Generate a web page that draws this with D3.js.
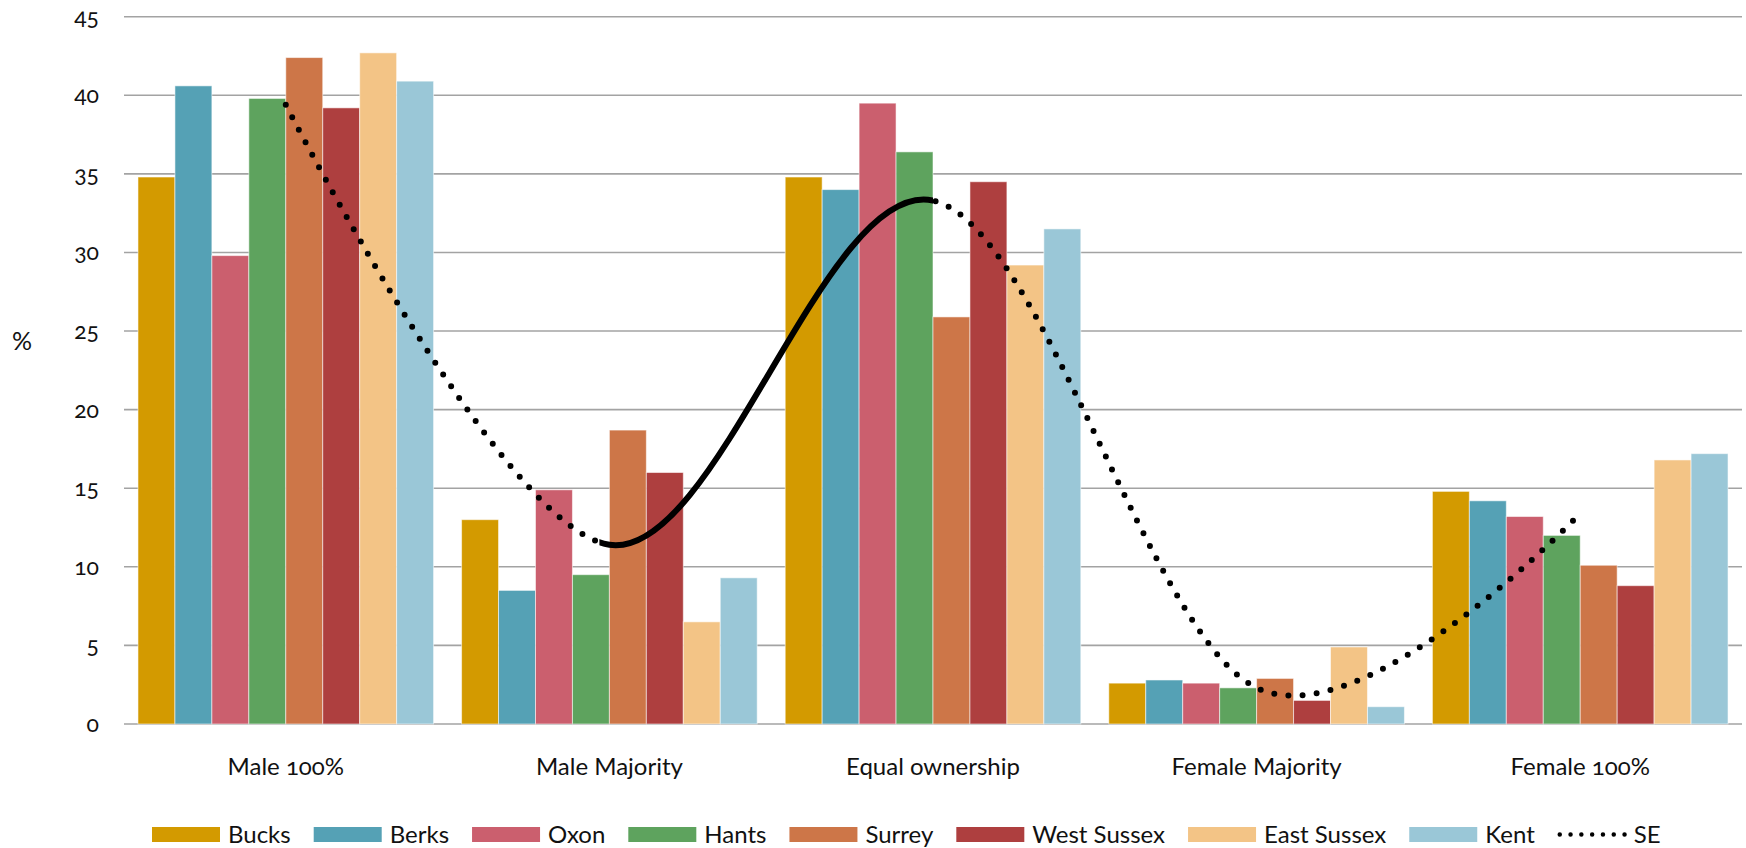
<!DOCTYPE html>
<html>
<head>
<meta charset="utf-8">
<script src="https://cdn.jsdelivr.net/npm/d3@7"></script>
<style>
  html, body { margin: 0; padding: 0; background: #fff; }
  svg { display: block; }
  text { font-family: Lato, "Open Sans", "DejaVu Sans", sans-serif; fill: #111; font-variant-numeric: oldstyle-nums; }
</style>
</head>
<body>
<svg id="chart" width="1746" height="848"></svg>
<script>
// ---- data ----
const categories = ["Male 100%", "Male Majority", "Equal ownership", "Female Majority", "Female 100%"];
const seriesNames = ["Bucks", "Berks", "Oxon", "Hants", "Surrey", "West Sussex", "East Sussex", "Kent"];
const bucks       = [34.8, 13.0, 34.8, 2.6, 14.8];
const berks       = [40.6,  8.5, 34.0, 2.8, 14.2];
const oxon        = [29.8, 14.9, 39.5, 2.6, 13.2];
const hants       = [39.8,  9.5, 36.4, 2.3, 12.0];
const surrey      = [42.4, 18.7, 25.9, 2.9, 10.1];
const westSussex  = [39.2, 16.0, 34.5, 1.5,  8.8];
const eastSussex  = [42.7,  6.5, 29.2, 4.9, 16.8];
const kent        = [40.9,  9.3, 31.5, 1.1, 17.2];
const se          = [39.4, 11.4, 33.3, 2.3, 13.4];
const yTicks      = [0, 5, 10, 15, 20, 25, 30, 35, 40, 45];
const colors      = ["#D39A00", "#55A1B5", "#CB5F6E", "#5EA35E", "#CD7648", "#AE3F3F", "#F3C486", "#9AC7D7"];

const seriesValues = [bucks, berks, oxon, hants, surrey, westSussex, eastSussex, kent];

// ---- layout ----
const svg = d3.select("#chart");
const plot = { left: 124, right: 1742, top: 16.7, bottom: 724 };

const y = d3.scaleLinear().domain([0, 45]).range([plot.bottom, plot.top]);
const x0 = d3.scaleBand().domain(categories).range([plot.left, plot.right])
  .paddingInner(0.0865).paddingOuter(0.0432);
const x1 = d3.scaleBand().domain(seriesNames).range([0, x0.bandwidth()]);
const color = d3.scaleOrdinal().domain(seriesNames).range(colors);

// gridlines
svg.append("g").selectAll("line").data(yTicks).join("line")
  .attr("x1", plot.left).attr("x2", plot.right)
  .attr("y1", d => y(d)).attr("y2", d => y(d))
  .attr("stroke", "#a3a3a3").attr("stroke-width", 1.6);

// y tick labels
svg.append("g").selectAll("text").data(yTicks).join("text")
  .attr("x", 99).attr("y", d => y(d) + 8)
  .attr("text-anchor", "end")
  .style("font-size", "23px")
  .text(d => d);

// y axis title
svg.append("text").attr("x", 22).attr("y", 340)
  .attr("text-anchor", "middle").attr("dominant-baseline", "central")
  .style("font-size", "25px").text("%");

// bars
const groups = svg.append("g").selectAll("g").data(categories).join("g")
  .attr("transform", c => `translate(${x0(c)},0)`);
groups.selectAll("rect")
  .data((c, ci) => seriesNames.map((s, si) => ({ s, v: seriesValues[si][ci] })))
  .join("rect")
  .attr("x", d => x1(d.s))
  .attr("width", x1.bandwidth())
  .attr("y", d => y(d.v))
  .attr("height", d => y(0) - y(d.v))
  .attr("fill", d => color(d.s))
  .attr("stroke", "rgba(255,255,255,0.55)")
  .attr("stroke-width", 1);

// category labels
svg.append("g").selectAll("text").data(categories).join("text")
  .attr("x", c => x0(c) + x0.bandwidth() / 2)
  .attr("y", 775)
  .attr("text-anchor", "middle")
  .style("font-size", "24px")
  .text(c => c);

// SE line (smoothed); dotted except the Male Majority -> Equal ownership segment
const pts = categories.map((c, i) => [x0(c) + x0.bandwidth() / 2, y(se[i])]);
const lineGen = d3.line().curve(d3.curveCardinal.tension(0));
const pathD = lineGen(pts);
const defs = svg.append("defs");
const xa = pts[1][0], xb = pts[2][0];
defs.append("clipPath").attr("id", "clipSolid").append("rect")
  .attr("x", xa - 10).attr("y", 0).attr("width", xb - xa + 10).attr("height", 848);
const clipDot = defs.append("clipPath").attr("id", "clipDot");
clipDot.append("rect").attr("x", 0).attr("y", 0).attr("width", xa - 10).attr("height", 848);
clipDot.append("rect").attr("x", xb).attr("y", 0).attr("width", 1746 - xb).attr("height", 848);

svg.append("path").attr("d", pathD)
  .attr("fill", "none").attr("stroke", "#000")
  .attr("stroke-width", 6).attr("stroke-linecap", "round")
  .attr("stroke-dasharray", "0 14.2")
  .attr("clip-path", "url(#clipDot)");
svg.append("path").attr("d", pathD)
  .attr("fill", "none").attr("stroke", "#000")
  .attr("stroke-width", 6)
  .attr("clip-path", "url(#clipSolid)");

// legend
const legend = svg.append("g");
const legendItems = seriesNames.map(s => ({ name: s, type: "bar" })).concat([{ name: "SE", type: "line" }]);
let lx = 152;
const swW = 68, swH = 15, swY = 827, gapText = 8, gapItem = 23, textBase = 843;
legendItems.forEach(item => {
  if (item.type === "bar") {
    legend.append("rect").attr("x", lx).attr("y", swY).attr("width", swW).attr("height", swH)
      .attr("fill", color(item.name));
  } else {
    legend.append("line").attr("x1", lx + 2).attr("x2", lx + swW).attr("y1", swY + swH / 2).attr("y2", swY + swH / 2)
      .attr("stroke", "#000").attr("stroke-width", 4.5).attr("stroke-linecap", "round")
      .attr("stroke-dasharray", "0 10.8");
  }
  const t = legend.append("text").attr("x", lx + swW + gapText).attr("y", textBase)
    .style("font-size", "24px").text(item.name);
  lx += swW + gapText + t.node().getComputedTextLength() + gapItem;
});
</script>
</body>
</html>
